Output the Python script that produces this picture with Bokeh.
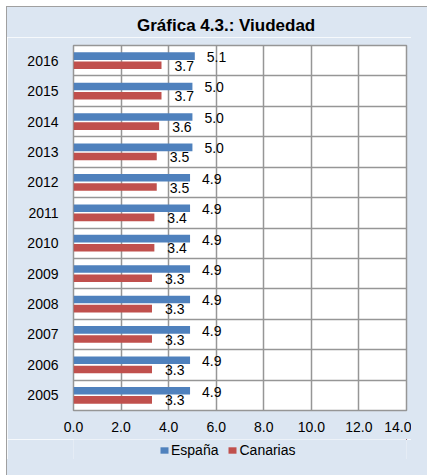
from bokeh.plotting import figure
from bokeh.layouts import column
from bokeh.models import (ColumnDataSource, Range1d, FixedTicker, Legend, LegendItem,
                          PrintfTickFormatter, Div)
from bokeh.core.properties import value
from bokeh.transform import dodge
from bokeh.embed import file_html
from bokeh.resources import INLINE

title_text = "Gráfica 4.3.: Viudedad"
years = ["2005", "2006", "2007", "2008", "2009", "2010", "2011", "2012", "2013", "2014", "2015", "2016"]
espana = [4.9, 4.9, 4.9, 4.9, 4.9, 4.9, 4.9, 4.9, 5.0, 5.0, 5.0, 5.1]
canarias = [3.3, 3.3, 3.3, 3.3, 3.3, 3.4, 3.4, 3.5, 3.5, 3.6, 3.7, 3.7]
x_ticks = [0, 2, 4, 6, 8, 10, 12, 14]
series_names = ["España", "Canarias"]

BLUE = "#4F81BD"
RED = "#C0504D"
BG = "#DCE6F2"
GRID = "#969696"
EDGE = "#A0A0A0"
FONT = "Liberation Sans"

pos = [i + 0.5 for i in range(len(years))]
src = ColumnDataSource(dict(
    y=pos, esp=espana, can=canarias,
    esp_lbl=[f"{v:.1f}" for v in espana],
    can_lbl=[f"{v:.1f}" for v in canarias],
))

title = Div(text=(f'<div style="padding:9px 0 0 130px; font-family:\'{FONT}\'; '
                  f'font-size:17px; font-weight:bold; line-height:20px; color:black; '
                  f'white-space:nowrap;">{title_text}</div>'),
            width=404, height=30, margin=0, styles={"background-color": BG})

p = figure(width=404, height=402, output_backend="svg", toolbar_location=None,
           x_range=Range1d(0, 14), y_range=Range1d(0, len(years)),
           min_border_left=66, min_border_right=5, min_border_top=8, min_border_bottom=29,
           background_fill_color="white", border_fill_color=BG, margin=0)

p.outline_line_color = GRID
p.outline_line_width = 1.5

p.hbar(y=dodge("y", 0.15, range=p.y_range), right="esp", left=0, height=0.25,
       source=src, fill_color=BLUE, line_color=None)
p.hbar(y=dodge("y", -0.15, range=p.y_range), right="can", left=0, height=0.25,
       source=src, fill_color=RED, line_color=None)

p.text(x="esp", y=dodge("y", 0.12, range=p.y_range), text="esp_lbl", source=src,
       x_offset=12, text_align="left", text_baseline="middle",
       text_font=value(FONT), text_font_size="14px", text_color="black")
p.text(x="can", y=dodge("y", -0.17, range=p.y_range), text="can_lbl", source=src,
       x_offset=13, text_align="left", text_baseline="middle",
       text_font=value(FONT), text_font_size="14px", text_color="black")

# x axis
p.xaxis.ticker = FixedTicker(ticks=x_ticks)
p.xaxis.formatter = PrintfTickFormatter(format="%.1f")
p.xaxis.axis_line_color = None
p.xaxis.major_tick_line_color = None
p.xaxis.minor_tick_line_color = None
p.xaxis.major_tick_out = 0
p.xaxis.major_label_standoff = 11
p.xaxis.major_label_text_font = FONT
p.xaxis.major_label_text_font_size = "14px"
p.xaxis.major_label_text_color = "black"

# y axis
p.yaxis.ticker = FixedTicker(ticks=pos)
p.yaxis.major_label_overrides = {pv: yr for pv, yr in zip(pos, years)}
p.yaxis.axis_line_color = None
p.yaxis.major_tick_line_color = None
p.yaxis.minor_tick_line_color = None
p.yaxis.major_tick_out = 0
p.yaxis.major_label_standoff = 15
p.yaxis.major_label_text_font = FONT
p.yaxis.major_label_text_font_size = "14px"
p.yaxis.major_label_text_color = "black"

p.xgrid.ticker = FixedTicker(ticks=x_ticks)
p.xgrid.grid_line_color = GRID
p.xgrid.grid_line_width = 1.5
p.ygrid.ticker = FixedTicker(ticks=list(range(len(years) + 1)))
p.ygrid.grid_line_color = GRID
p.ygrid.grid_line_width = 1.5

# legend strip (its bars lie outside its own visible ranges; only the legend shows)
lg = figure(width=404, height=20, output_backend="svg", toolbar_location=None,
            x_range=Range1d(-20, -10), y_range=Range1d(-20, -10),
            x_axis_location=None, y_axis_location=None, min_border=0, margin=0,
            background_fill_color=BG, border_fill_color=BG, outline_line_color=None)
lg.xgrid.visible = False
lg.ygrid.visible = False
l_esp = lg.hbar(y="y", right="esp", left=0, height=0.25, source=src,
                fill_color=BLUE, line_color=None)
l_can = lg.hbar(y="y", right="can", left=0, height=0.25, source=src,
                fill_color=RED, line_color=None)
legend = Legend(items=[LegendItem(label=series_names[0], renderers=[l_esp]),
                       LegendItem(label=series_names[1], renderers=[l_can])],
                orientation="horizontal", location=(86, 1),
                glyph_width=10, glyph_height=8, label_standoff=2, spacing=9,
                padding=0, margin=0, border_line_color=None, background_fill_alpha=0,
                label_text_font=FONT, label_text_font_size="14px", label_text_color="black")
lg.add_layout(legend, "center")

layout = column(title, p, lg, spacing=0)
layout.styles = {
    "margin-left": "7px", "margin-top": "7px",
    "box-shadow": (f"16px 0 0 0 {BG}, 16px 16px 0 0 {BG}, 0 16px 0 0 {BG}, "
                   f"-1px -1px 0 0 {EDGE}, 16px -1px 0 0 {EDGE}, -1px 16px 0 0 {EDGE}"),
}

open("out.html", "w").write(file_html(layout, INLINE))
